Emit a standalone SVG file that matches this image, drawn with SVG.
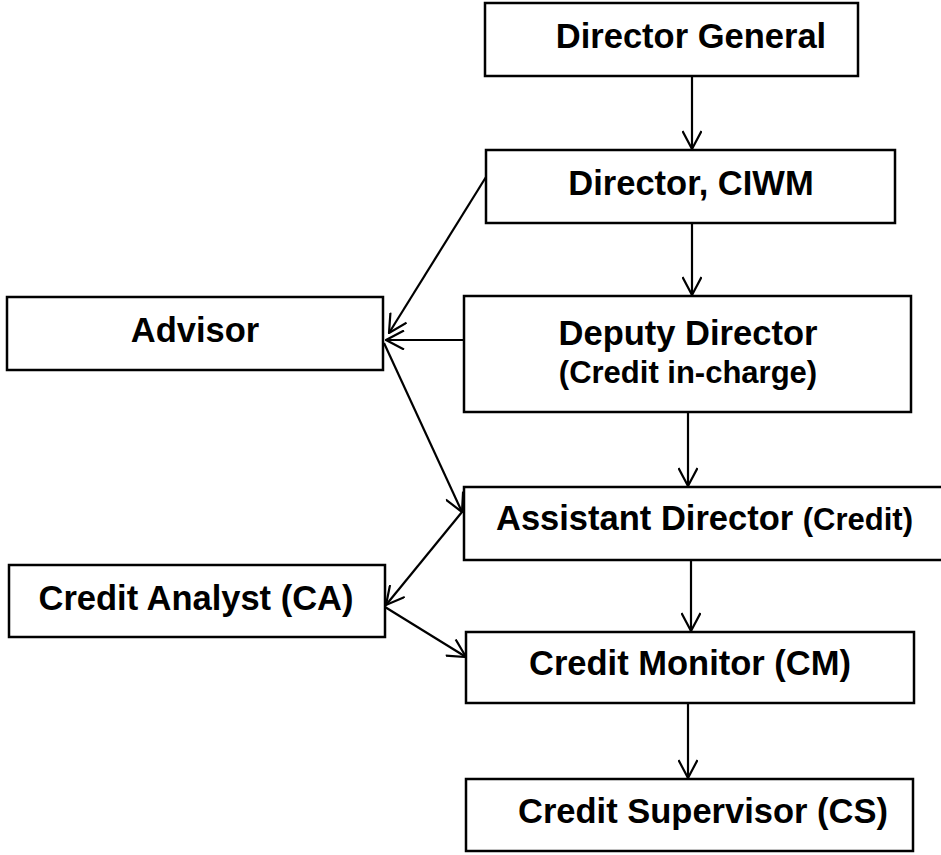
<svg xmlns="http://www.w3.org/2000/svg" width="941" height="855" viewBox="0 0 941 855">
<style>
.box{fill:#fff;stroke:#000;stroke-width:2.5}
.t{font-family:"Liberation Sans",Arial,sans-serif;font-weight:bold;font-size:34.5px;fill:#000}
.s{font-size:31px}
.c{text-anchor:middle}
.ln{stroke:#000;stroke-width:2.2;fill:none;marker-end:url(#ah)}
</style>
<defs>
<marker id="ah" viewBox="0 0 20 20" refX="19" refY="10" markerWidth="20" markerHeight="20" markerUnits="userSpaceOnUse" orient="auto">
<path d="M1,0.5 L19,10 L1,19.5" fill="none" stroke="#000" stroke-width="2.2"/>
</marker>
</defs>
<rect width="941" height="855" fill="#fff"/>
<g id="connectors">
<line class="ln" x1="692" y1="76" x2="692" y2="149"/>
<line class="ln" x1="692" y1="223" x2="692" y2="295"/>
<line class="ln" x1="688" y1="412" x2="688" y2="486"/>
<line class="ln" x1="691" y1="560" x2="691" y2="631"/>
<line class="ln" x1="688" y1="703" x2="688" y2="778"/>
<line class="ln" x1="486" y1="177" x2="389" y2="333"/>
<line class="ln" x1="464" y1="340" x2="386" y2="340"/>
<line class="ln" x1="384" y1="343" x2="462" y2="512"/>
<line class="ln" x1="462" y1="512" x2="386" y2="605"/>
<line class="ln" x1="385" y1="607" x2="466" y2="657"/>
</g>
<g id="director-general">
<rect class="box" x="485" y="3" width="373" height="73"/>
<text class="t c" x="691" y="48">Director General</text>
</g>
<g id="director-ciwm">
<rect class="box" x="486" y="150" width="409" height="73"/>
<text class="t c" x="691" y="195">Director, CIWM</text>
</g>
<g id="advisor">
<rect class="box" x="7" y="297" width="376" height="73"/>
<text class="t c" x="195" y="342">Advisor</text>
</g>
<g id="deputy-director">
<rect class="box" x="464" y="296" width="447" height="116"/>
<text class="t c" x="688" y="345">Deputy Director</text>
<text class="t s c" x="688" y="383">(Credit in-charge)</text>
</g>
<g id="assistant-director">
<rect class="box" x="464" y="487" width="481" height="73"/>
<text class="t" x="496" y="530">Assistant Director <tspan class="s">(Credit)</tspan></text>
</g>
<g id="credit-analyst">
<rect class="box" x="9" y="565" width="376" height="72"/>
<text class="t c" x="196" y="610">Credit Analyst (CA)</text>
</g>
<g id="credit-monitor">
<rect class="box" x="466" y="632" width="448" height="71"/>
<text class="t c" x="690" y="675">Credit Monitor (CM)</text>
</g>
<g id="credit-supervisor">
<rect class="box" x="466" y="779" width="447" height="72"/>
<text class="t c" x="703" y="823">Credit Supervisor (CS)</text>
</g>
</svg>
